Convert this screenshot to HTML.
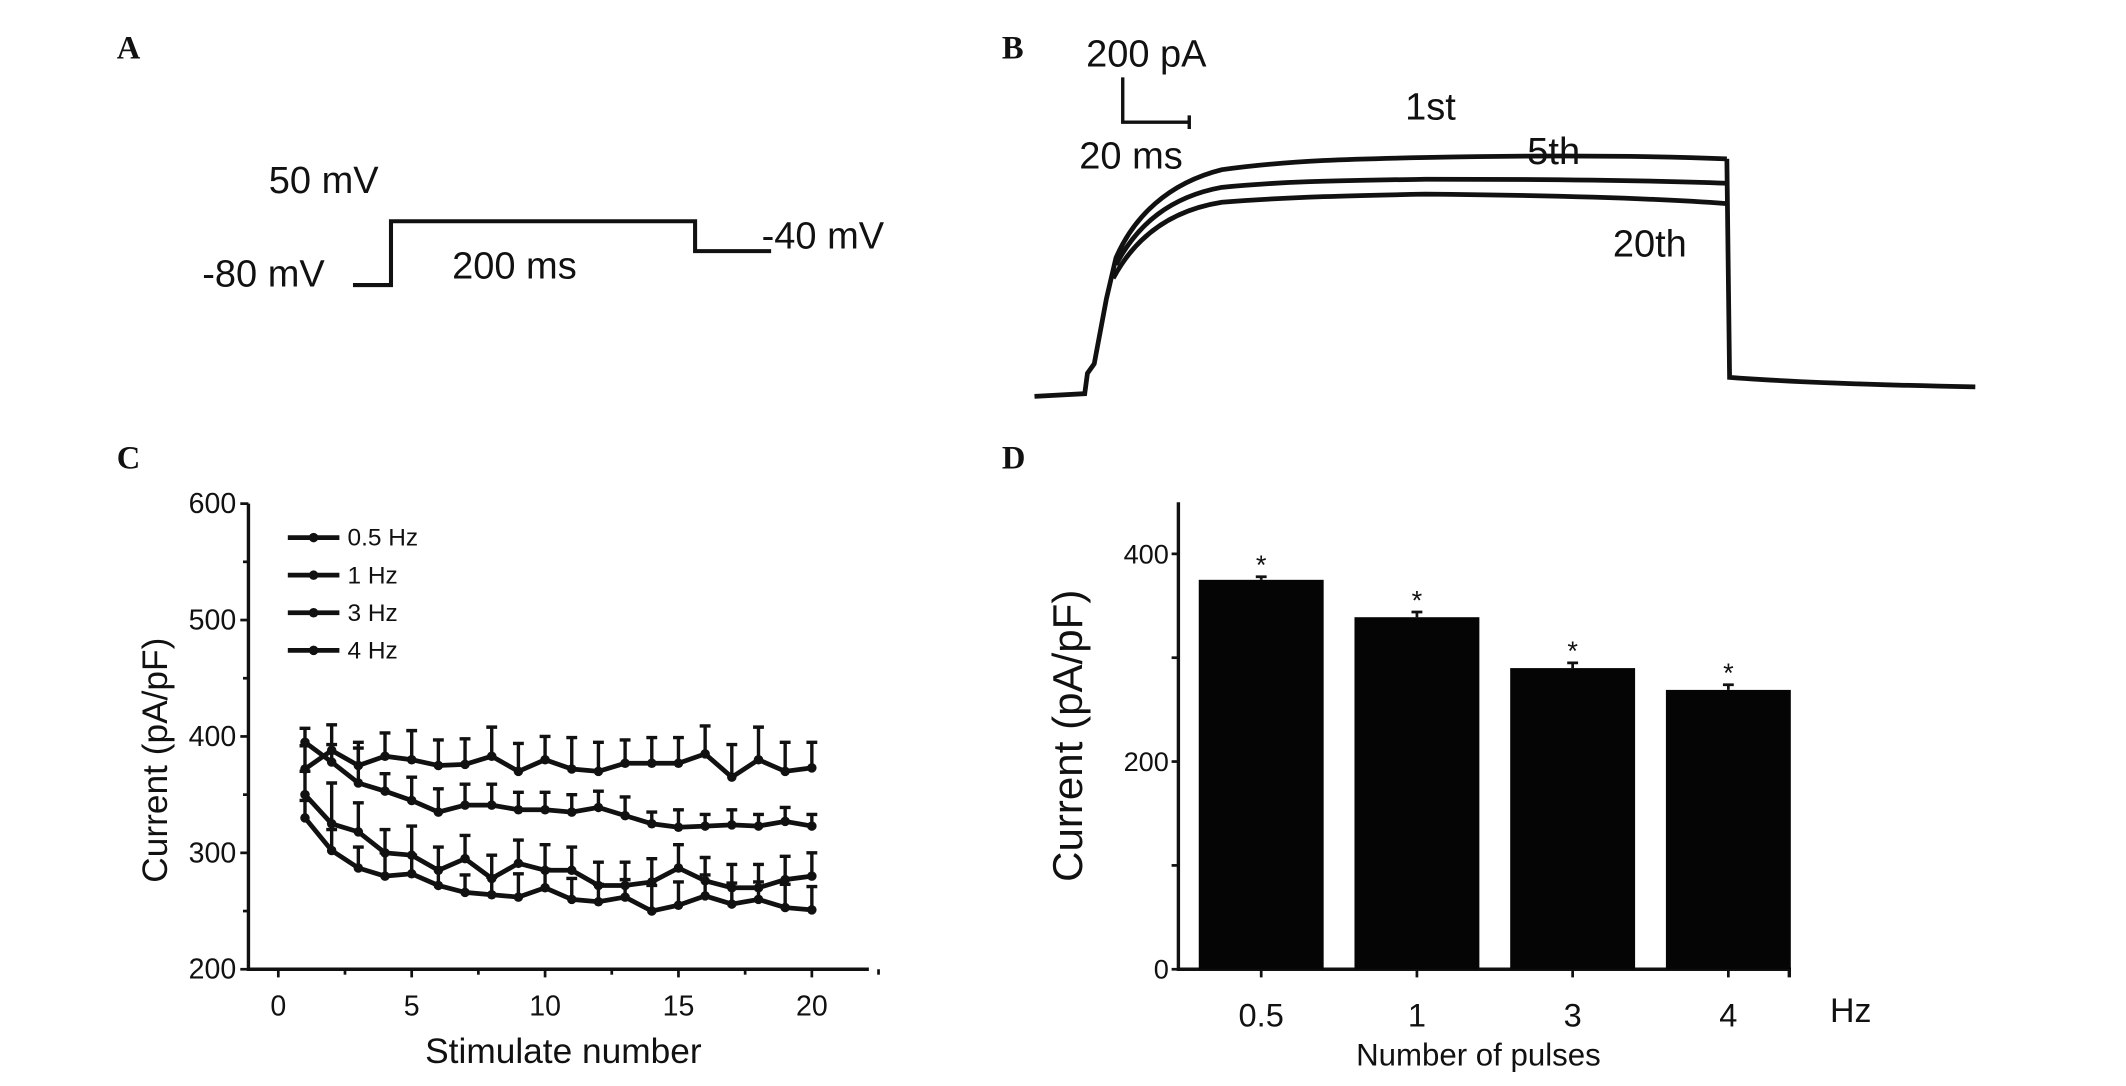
<!DOCTYPE html>
<html><head><meta charset="utf-8">
<style>
html,body{margin:0;padding:0;background:#fff;}
svg{display:block;}
text{font-family:"Liberation Sans",Arial,sans-serif;fill:#111;}
.lbl{font-family:"Liberation Serif",serif;font-weight:bold;font-size:24px;}
</style></head>
<body>
<svg id="fig" width="2126" height="1086" viewBox="0 0 1566 800" preserveAspectRatio="none" xmlns="http://www.w3.org/2000/svg">
<rect width="1566" height="800" fill="#fff"/>
<!-- Panel A -->
<g>
<text class="lbl" x="86" y="43">A</text>
<path d="M260 210 H288 V163 H512 V185 H568" fill="none" stroke="#111" stroke-width="3"/>
<text x="198" y="142" font-size="28">50 mV</text>
<text x="149" y="211" font-size="28">-80 mV</text>
<text x="333" y="205" font-size="28">200 ms</text>
<text x="561" y="183" font-size="28">-40 mV</text>
</g>
<!-- Panel B -->
<g>
<text class="lbl" x="738" y="43">B</text>
<path d="M827 57 V90 H876 M876 85 V95" fill="none" stroke="#111" stroke-width="2.5"/>
<text x="800" y="49" font-size="28">200 pA</text>
<text x="795" y="124" font-size="28">20 ms</text>
<g fill="none" stroke="#111" stroke-width="3.5">
<path d="M762 292 L799 290 L801 275 L806 268 L815 220 L822 190 C835 160 860 135 900 125 C950 118 1000 117 1050 116 C1150 114 1220 115 1272 117"/>
<path d="M822 195 C838 165 862 145 900 138 C950 133 1000 133 1050 132 C1150 132 1220 133 1272 135"/>
<path d="M820 205 C836 175 862 155 900 149 C950 145 1000 144 1050 143 C1150 144 1220 146 1272 150"/>
<path d="M1272 117 L1274 278 C1300 280 1350 283 1455 285"/>
</g>
<text x="1035" y="88" font-size="28">1st</text>
<text x="1125" y="121" font-size="28">5th</text>
<text x="1188" y="189" font-size="28">20th</text>
</g>
<text class="lbl" x="86" y="345">C</text>
<text class="lbl" x="738" y="345">D</text>
<g id="chartC"></g>
<g id="chartD"></g>
</svg>
<script>
const stimNumbers=[1,2,3,4,5,6,7,8,9,10,11,12,13,14,15,16,17,18,19,20];
const seriesNames=["0.5 Hz","1 Hz","3 Hz","4 Hz"];
const hz05=[372,388,375,383,380,375,376,383,370,380,372,370,377,377,377,385,365,380,370,373];
const hz1=[395,378,360,353,345,335,341,341,337,337,335,339,332,325,322,323,324,323,327,323];
const hz3=[350,325,318,300,298,285,295,278,291,285,285,272,272,275,287,276,270,270,277,280];
const hz4=[330,302,287,280,282,272,266,264,262,270,260,258,262,250,255,263,256,260,253,251];
const err05=[20,22,20,20,25,22,22,25,24,20,27,25,20,22,22,24,28,28,25,22];
const err1=[12,15,30,15,20,20,18,18,15,15,15,14,16,10,15,10,13,10,12,10];
const err3=[20,35,25,20,25,20,20,20,20,22,20,20,20,20,20,20,20,20,20,20];
const err4=[15,18,18,20,16,15,15,15,20,16,18,15,15,22,20,18,18,15,20,20];
const cTicksY=[200,300,400,500,600];
const cTicksX=[0,5,10,15,20];
const barCats=["0.5","1","3","4"];
const barVals=[375,339,290,269];
const barErrs=[3,5,5,5];
const dTicksY=[0,200,400];

const NS="http://www.w3.org/2000/svg";
function mk(tag,attrs,parent,txt){const e=document.createElementNS(NS,tag);for(const k in attrs)e.setAttribute(k,attrs[k]);if(txt!==undefined)e.textContent=txt;parent.appendChild(e);return e;}

// Chart C
const C=document.getElementById('chartC');
const cx=v=>205+(v-0)*(598-205)/20;
const cy=v=>714-(v-200)*(714-371)/400;
let e;
e=mk('path',{d:`M183 371 V714 H640`,fill:'none',stroke:'#111','stroke-width':2.5},C);


for(let v=200;v<=600;v+=50){e=mk('line',{x1:183,x2:v%100===0?177:179,y1:cy(v),y2:cy(v),stroke:'#111','stroke-width':2},C);

}
for(let v=0;v<=22.5;v+=2.5){e=mk('line',{x1:cx(v),x2:cx(v),y1:714,y2:v%5===0?720:718,stroke:'#111','stroke-width':2},C);

}
cTicksY.forEach(v=>{e=mk('text',{x:174,y:cy(v)+7,'font-size':21,'text-anchor':'end'},C,v);

});
cTicksX.forEach(v=>{e=mk('text',{x:cx(v),y:748,'font-size':21,'text-anchor':'middle'},C,v);

});
e=mk('text',{x:415,y:783,'font-size':26,'text-anchor':'middle'},C,'Stimulate number');


e=mk('text',{x:0,y:0,'font-size':26,'text-anchor':'middle',transform:'translate(123 560) rotate(-90)'},C,'Current (pA/pF)');


const allS=[hz05,hz1,hz3,hz4], allE=[err05,err1,err3,err4];
allS.forEach((s,i)=>{
  const g=mk('g',{},C);
  
  
  s.forEach((v,j)=>{const x=cx(stimNumbers[j]);const t=cy(v+allE[i][j]);
    e=mk('path',{d:`M${x} ${cy(v)} V${t} M${x-4} ${t} H${x+4}`,stroke:'#111','stroke-width':2.5,fill:'none'},g);
    
    });
  e=mk('polyline',{points:s.map((v,j)=>cx(stimNumbers[j])+','+cy(v)).join(' '),fill:'none',stroke:'#111','stroke-width':3.5},g);
  
  
  s.forEach((v,j)=>{e=mk('circle',{cx:cx(stimNumbers[j]),cy:cy(v),r:3.5,fill:'#111'},g);
    
    });
  const ly=396+i*27.7;
  e=mk('line',{x1:212,x2:250,y1:ly,y2:ly,stroke:'#111','stroke-width':3.5},C);
  
  
  e=mk('circle',{cx:231,cy:ly,r:3.5,fill:'#111'},C);
  
  
  e=mk('text',{x:256,y:ly+6,'font-size':18},C,seriesNames[i]);
  
  
});

// Chart D
const D=document.getElementById('chartD');
const dy=v=>714-v*(714-408)/400;
const dx=i=>929+i*114.7;
e=mk('path',{d:`M868 370 V714 H1318 V720`,fill:'none',stroke:'#111','stroke-width':2.5},D);


for(let v=0;v<=400;v+=100){e=mk('line',{x1:868,x2:863,y1:dy(v),y2:dy(v),stroke:'#111','stroke-width':2},D);

}
dTicksY.forEach(v=>{e=mk('text',{x:861,y:dy(v)+7,'font-size':20,'text-anchor':'end'},D,v);

});
barCats.forEach((c,i)=>{
  const x=dx(i);
  e=mk('rect',{x:x-46,y:dy(barVals[i]),width:92,height:714-dy(barVals[i]),fill:'#050505'},D);
  
  
  e=mk('path',{d:`M${x} ${dy(barVals[i])} V${dy(barVals[i]+barErrs[i])} M${x-4} ${dy(barVals[i]+barErrs[i])} H${x+4}`,stroke:'#111','stroke-width':2,fill:'none'},D);
  
  
  e=mk('text',{x:x,y:dy(barVals[i]+barErrs[i])-2,'font-size':20,'text-anchor':'middle'},D,'*');
  
  
  e=mk('line',{x1:x,x2:x,y1:714,y2:720,stroke:'#111','stroke-width':2},D);
  
  
  e=mk('text',{x:x,y:756,'font-size':24,'text-anchor':'middle'},D,c);
  
  
});
e=mk('text',{x:1348,y:753,'font-size':25},D,'Hz');


e=mk('text',{x:1089,y:785,'font-size':23,'text-anchor':'middle'},D,'Number of pulses');


e=mk('text',{x:0,y:0,'font-size':31,'text-anchor':'middle',transform:'translate(797 542) rotate(-90)'},D,'Current (pA/pF)');


</script>
</body></html>
